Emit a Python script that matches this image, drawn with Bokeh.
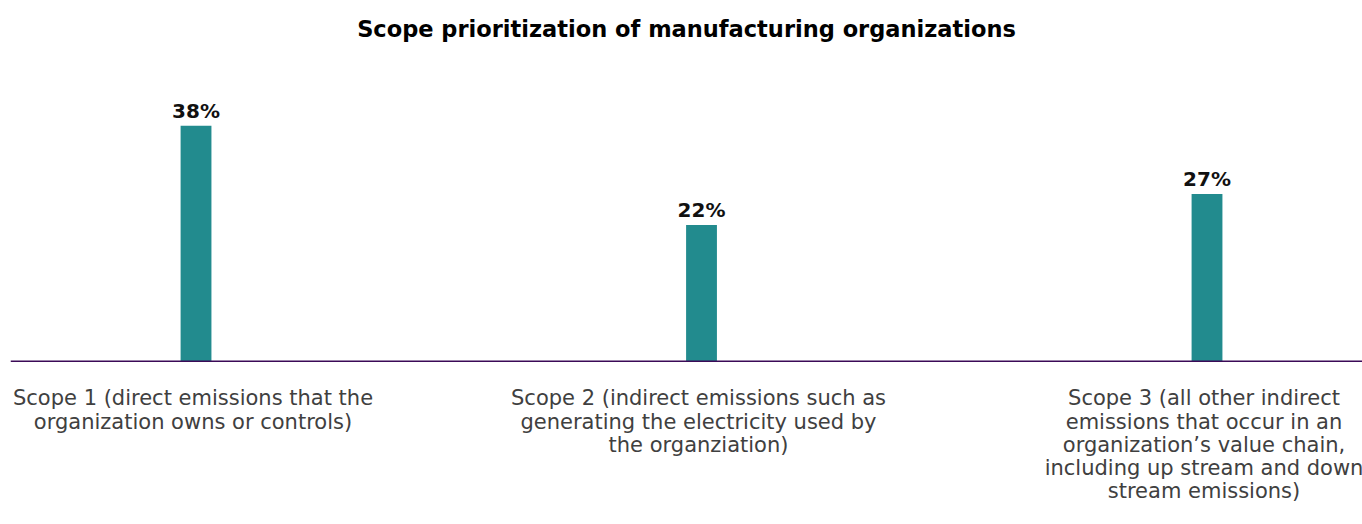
from bokeh.plotting import figure
from bokeh.models import ColumnDataSource, Range1d, Span, Title
from bokeh.embed import file_html
from bokeh.resources import INLINE
from bokeh.core.properties import value

categories = [
    "Scope 1 (direct emissions that the\norganization owns or controls)",
    "Scope 2 (indirect emissions such as\ngenerating the electricity used by\nthe organziation)",
    "Scope 3 (all other indirect\nemissions that occur in an\norganization\u2019s value chain,\nincluding up stream and down\nstream emissions)",
]
values = [38, 22, 27]
value_labels = ["38%", "22%", "27%"]
positions = [0, 1, 2]
title_text = "Scope prioritization of manufacturing organizations"

FONT = "DejaVu Sans"
TEAL = "#228B8E"
PURPLE = "#3B0A57"

src = ColumnDataSource(dict(x=positions, top=values, lab=value_labels, cat=categories,
                            zero=[0, 0, 0]))

p = figure(width=1362, height=524, output_backend="svg", toolbar_location=None, title=None,
           x_range=Range1d(-0.367, 2.3076), y_range=Range1d(-26.3, 50.6),
           min_border_left=10, min_border_right=0, min_border_top=0, min_border_bottom=0)
p.add_layout(Title(text=title_text, align="center", text_font=FONT, text_font_size="22.5px",
                   text_font_style="bold", text_color="#000000", standoff=12, offset=3), "above")
p.add_layout(Title(text=" ", text_font_size="4.5px", standoff=0), "above")

p.xaxis.visible = False
p.yaxis.visible = False
p.xgrid.visible = False
p.ygrid.visible = False
p.outline_line_color = None

p.vbar(x="x", top="top", bottom=0, width=0.061, source=src, color=TEAL, line_color=None)
p.add_layout(Span(location=0, dimension="width", line_color=PURPLE, line_width=1.5))

p.text(x="x", y="top", text="lab", source=src, text_align="center", text_baseline="bottom",
       y_offset=-3, text_font=value(FONT), text_font_size="20px", text_font_style="bold",
       text_color="#111111")
p.text(x="x", y="zero", text="cat", source=src, text_align="center", text_baseline="top",
       x_offset=-3, y_offset=25, text_font=value(FONT), text_font_size="21px",
       text_color="#404040", text_line_height=0.97)

open("out.html", "w").write(file_html(p, INLINE))
